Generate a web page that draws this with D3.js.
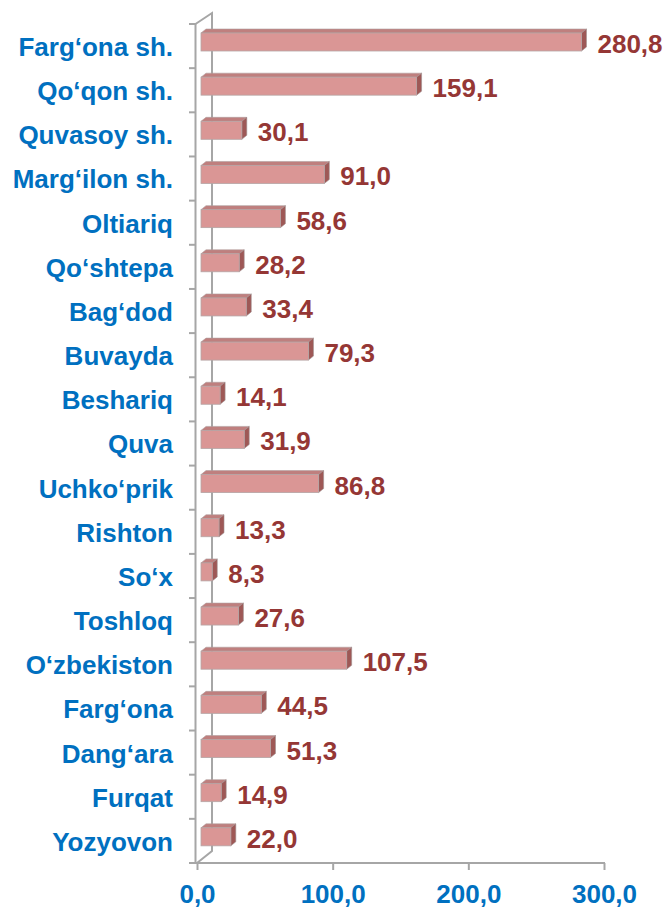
<!DOCTYPE html>
<html>
<head>
<meta charset="utf-8">
<script src="https://cdn.jsdelivr.net/npm/d3@7"></script>
<style>
  html, body { margin: 0; padding: 0; background: #fff; }
  svg { display: block; }
  text { font-family: "Liberation Sans", Arial, sans-serif; font-weight: bold; }
</style>
</head>
<body>
<svg id="chart" width="667" height="908"></svg>
<script>
// tumanlar / shaharlar
const categories = ["Farg‘ona sh.", "Qo‘qon sh.", "Quvasoy sh.", "Marg‘ilon sh.", "Oltiariq", "Qo‘shtepa",
  "Bag‘dod", "Buvayda", "Beshariq", "Quva", "Uchko‘prik", "Rishton", "So‘x", "Toshloq",
  "O‘zbekiston", "Farg‘ona", "Dang‘ara", "Furqat", "Yozyovon"];
const values = [280.8, 159.1, 30.1, 91.0, 58.6, 28.2, 33.4, 79.3, 14.1, 31.9, 86.8, 13.3, 8.3, 27.6,
  107.5, 44.5, 51.3, 14.9, 22.0];
const xTicks = [0, 100, 200, 300];

const svg = d3.select("#chart");
const locale = d3.formatLocale({ decimal: ",", thousands: " ", grouping: [3], currency: ["", ""] });
const fmt = locale.format(".1f");

const blue = "#0070c0", red = "#953735", grid = "#a6a6a6";
const fontSize = 26;
const depth = [5, -4]; // 3D siljish

// shkalalar
const y = d3.scaleBand().domain(categories).range([24, 863]).padding(0);
const x = d3.scaleLinear().domain([0, 300]).range([197, 604]);      // old tekislik (o'q)
const xBar = d3.scaleLinear().domain([0, 300]).range([201, 607.5]); // ustunlar

// orqa devor chiziqlari
const frame = svg.append("g").attr("stroke", grid).attr("stroke-width", 2).attr("fill", "none");
frame.append("path").attr("d", `M195.5,24 L212,13 L212,851 L197,863`);
frame.append("line").attr("x1", 195.5).attr("x2", 195.5).attr("y1", 24).attr("y2", 863);

// chap o'q belgilari
const yTicks = categories.map(c => y(c)).concat([y.range()[1]]);
frame.selectAll("line.yt").data(yTicks).join("line").attr("class", "yt")
  .attr("x1", 189).attr("x2", 196).attr("y1", d => d).attr("y2", d => d);

// x o'qi
const xAxis = svg.append("g").attr("transform", "translate(0,863)")
  .call(d3.axisBottom(x).tickValues(xTicks).tickSize(7).tickFormat(fmt));
xAxis.select(".domain").attr("stroke", grid).attr("stroke-width", 2).attr("d", `M195,0H605`);
xAxis.selectAll(".tick line").attr("stroke", grid).attr("stroke-width", 2);
xAxis.selectAll(".tick text").attr("fill", blue).attr("font-size", fontSize).attr("dy", null).attr("y", 40)
  .style("font-family", "'Liberation Sans', Arial, sans-serif").style("font-weight", "bold");

// ustunlar
const data = categories.map((c, i) => ({ c, v: values[i] }));
const bars = svg.append("g").selectAll("g").data(data).join("g");
const top0 = d => y(d.c) + 9, h = 18;
const [dx, dy] = depth;

// yuqori yuz
bars.append("path")
  .attr("fill", "#bf7f7e").attr("stroke", "#b0a0a0").attr("stroke-width", 0.6)
  .attr("d", d => {
    const x0 = xBar(0), x1 = xBar(d.v), t = top0(d);
    return `M${x0},${t} L${x0 + dx},${t + dy} L${x1 + dx},${t + dy} L${x1},${t} Z`;
  });
// yon yuz
bars.append("path")
  .attr("fill", "#9e5856").attr("stroke", "#a09090").attr("stroke-width", 0.6)
  .attr("d", d => {
    const x1 = xBar(d.v), t = top0(d);
    return `M${x1},${t} L${x1 + dx},${t + dy} L${x1 + dx},${t + h + dy} L${x1},${t + h} Z`;
  });
// old yuz
bars.append("rect")
  .attr("x", xBar(0)).attr("y", top0).attr("width", d => xBar(d.v) - xBar(0)).attr("height", h)
  .attr("fill", "#da9695").attr("stroke", "#b5a5a5").attr("stroke-width", 0.8);

// qiymat yorliqlari
svg.append("g").selectAll("text").data(data).join("text")
  .attr("x", d => xBar(d.v) + dx + 11).attr("y", d => y(d.c) + 29)
  .attr("fill", red).attr("font-size", fontSize).text(d => fmt(d.v));

// toifa yorliqlari
svg.append("g").selectAll("text").data(categories).join("text")
  .attr("x", 173).attr("y", d => y(d) + 32).attr("text-anchor", "end")
  .attr("fill", blue).attr("font-size", fontSize).text(d => d);
</script>
</body>
</html>
